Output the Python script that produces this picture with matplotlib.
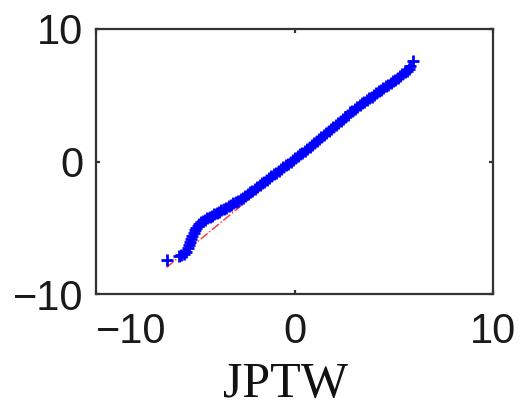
import matplotlib
matplotlib.use("Agg")
import matplotlib.pyplot as plt

# theoretical quantiles (x) and sample quantiles (y)
x_q = [-6.44, -5.80, -5.70, -5.55, -5.45, -5.38, -5.30, -5.25, -5.20, -5.14,
       -5.08, -5.02, -4.95, -4.88, -4.80, -4.70, -4.60, -4.50, -4.40, -4.28,
       -4.16, -4.04, -3.92, -3.80, -3.68, -3.56, -3.44, -3.32, -3.20, -3.08,
       -2.96, -2.84, -2.72, -2.60, -2.48, -2.36, -2.24, -2.12, -2.00, -1.88,
       -1.76, -1.64, -1.52, -1.40, -1.28, -1.16, -1.04, -0.92, -0.80, -0.68,
       -0.56, -0.44, -0.32, -0.20, -0.08, 0.04, 0.16, 0.28, 0.40, 0.52,
       0.64, 0.76, 0.88, 1.00, 1.12, 1.24, 1.36, 1.48, 1.60, 1.72,
       1.84, 1.96, 2.08, 2.20, 2.32, 2.44, 2.56, 2.68, 2.80, 2.92,
       3.04, 3.16, 3.28, 3.40, 3.52, 3.64, 3.76, 3.88, 4.00, 4.12,
       4.24, 4.36, 4.48, 4.60, 4.72, 4.84, 4.96, 5.08, 5.20, 5.32,
       5.44, 5.56, 5.66, 5.76, 5.82, 5.99]
y_q = [-7.43, -7.15, -7.05, -6.95, -6.80, -6.55, -6.30, -6.10, -5.85, -5.60,
       -5.40, -5.20, -5.02, -4.88, -4.75, -4.60, -4.48, -4.38, -4.28, -4.18,
       -4.08, -3.98, -3.88, -3.78, -3.68, -3.58, -3.48, -3.38, -3.27, -3.16,
       -3.06, -2.95, -2.84, -2.72, -2.60, -2.47, -2.33, -2.20, -2.07, -1.93,
       -1.80, -1.66, -1.52, -1.39, -1.25, -1.12, -0.98, -0.85, -0.71, -0.58,
       -0.44, -0.30, -0.16, -0.02, 0.12, 0.25, 0.39, 0.53, 0.67, 0.81,
       0.95, 1.10, 1.25, 1.40, 1.55, 1.69, 1.84, 1.98, 2.13, 2.28,
       2.43, 2.58, 2.72, 2.92, 3.07, 3.22, 3.38, 3.54, 3.70, 3.84,
       3.98, 4.12, 4.26, 4.38, 4.50, 4.62, 4.76, 4.90, 5.04, 5.18,
       5.30, 5.42, 5.54, 5.68, 5.80, 5.92, 6.05, 6.15, 6.28, 6.45,
       6.58, 6.72, 6.85, 7.00, 7.18, 7.55]

# reference line
fit_slope = 1.24
fit_intercept = 0.0

ticks = [-10, 0, 10]
xlabel = "JPTW"

fig = plt.figure(figsize=(5.23, 4.09), dpi=100)
ax = fig.add_axes([96 / 523, 1 - 294 / 409, 397 / 523, 265 / 409])

lx = [min(x_q), max(x_q)]
ly = [fit_slope * v + fit_intercept for v in lx]
ax.plot(lx, ly, color="#ff3030", linestyle="-.", linewidth=1.0, zorder=2)
ax.plot(x_q, y_q, linestyle="none", marker="+", markersize=8.5,
        markeredgewidth=2.0, color="#0000ff", zorder=3)

ax.set_xlim(-10, 10)
ax.set_ylim(-10, 10)
ax.set_xticks(ticks)
ax.set_yticks(ticks)

for s in ax.spines.values():
    s.set_linewidth(1.6)
    s.set_color("#333333")
ax.tick_params(direction="in", length=3, width=1.6, color="#333333",
               top=True, right=True, labelsize=30, labelcolor="#1a1a1a")
ax.tick_params(axis="x", pad=13)
ax.tick_params(axis="y", pad=9)
for lab in ax.get_xticklabels() + ax.get_yticklabels():
    lab.set_family("Liberation Sans")
ax.get_xticklabels()[0].set_ha("left")

fig.text(286 / 523, 1 - 397 / 409, xlabel, family="Liberation Serif",
         fontsize=36, ha="center", va="baseline", color="#111111")

fig.savefig("out.png", dpi=100)
